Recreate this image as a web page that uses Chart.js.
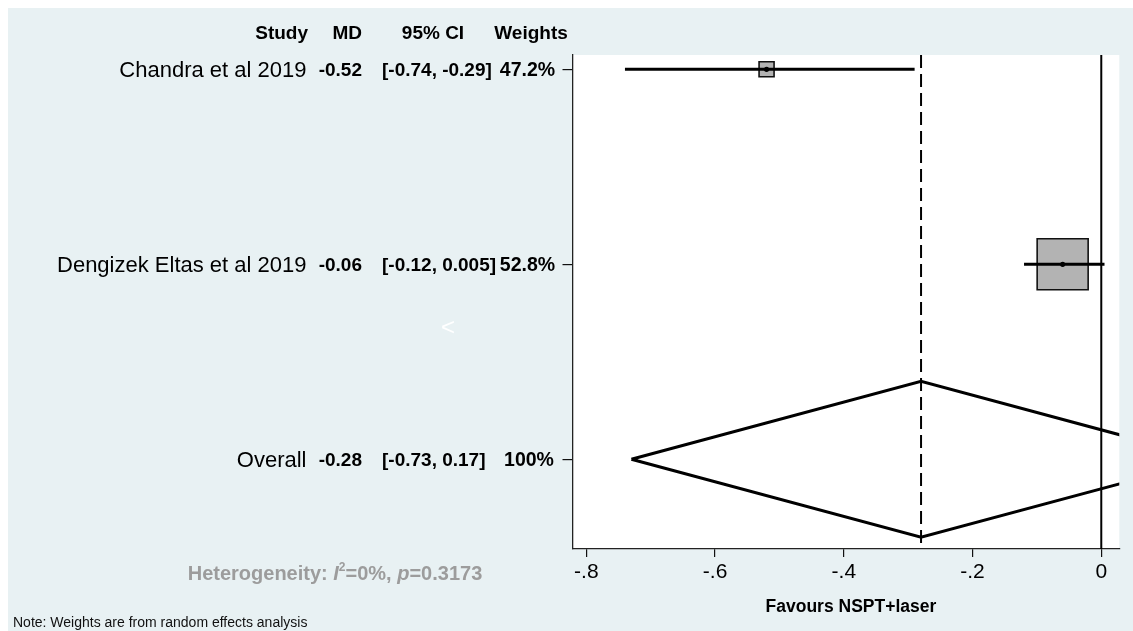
<!DOCTYPE html>
<html>
<head>
<meta charset="utf-8">
<title>Forest plot: NSPT+laser</title>
<script src="https://cdn.jsdelivr.net/npm/chart.js@4.4.1/dist/chart.umd.min.js"></script>
<style>
  html, body { margin: 0; padding: 0; background: #ffffff; }
  #wrap { position: relative; width: 1133px; height: 631px; }
  canvas { display: block; }
</style>
</head>
<body>
<div id="wrap"><canvas id="forest" width="1133" height="631"></canvas></div>
<script>
// ---- Study data (mean differences with 95% CI) ----
const studies = ['Chandra et al 2019', 'Dengizek Eltas et al 2019'];
const md      = [-0.52, -0.06];
const ciLow   = [-0.74, -0.12];
const ciHigh  = [-0.29, 0.005];
const weights = [47.2, 52.8];

// ---- Pooled estimate ----
const overallName   = 'Overall';
const overallMd     = -0.28;
const overallLow    = -0.73;
const overallHigh   = 0.17;
const overallWeight = 100;

// ---- Heterogeneity ----
const hetI2 = 0;
const hetP  = 0.3173;

// ---- Axis ----
const xTicks = [-0.8, -0.6, -0.4, -0.2, 0];
const xTitle = 'Favours NSPT+laser';
const headers = ['Study', 'MD', '95% CI', 'Weights'];
const note = 'Note: Weights are from random effects analysis';

// ---- Styling ----
const FONT = '"Liberation Sans", Arial, Helvetica, sans-serif';
const PANEL = '#e8f1f3';
const BOX_FILL = '#b3b3b3';
const boxSide = [15, 51];          // marker square side, px
const diamondHalf = 0.40;          // diamond half height, in row units
const X_MIN = -0.8215, X_MAX = 0.028;
const Y_MIN = 0.9267, Y_MAX = 3.46;

const rowOf = i => i + 1;          // rows counted from the top
const overallRow = studies.length + 1;
const fmtTick = v => (v === 0 ? '0' : String(v).replace('0.', '.'));

const datasets = [];

// point estimate dots (topmost)
datasets.push({
  data: md.map((v, i) => ({ x: v, y: rowOf(i) })),
  pointStyle: 'circle', pointRadius: 2.6, pointBackgroundColor: '#000',
  pointBorderWidth: 0, showLine: false, order: 0
});
// confidence interval whiskers
md.forEach((v, i) => {
  datasets.push({
    data: [{ x: ciLow[i], y: rowOf(i) }, { x: ciHigh[i], y: rowOf(i) }],
    showLine: true, borderColor: '#000', borderWidth: 3, pointRadius: 0,
    borderCapStyle: 'butt', order: 1
  });
});
// weight squares
datasets.push({
  data: md.map((v, i) => ({ x: v, y: rowOf(i) })),
  pointStyle: 'rect',
  pointRadius: boxSide.map(s => s / (2 * Math.SQRT1_2)),
  pointBackgroundColor: BOX_FILL, pointBorderColor: '#111', pointBorderWidth: 1.6,
  showLine: false, order: 2
});
// pooled diamond
datasets.push({
  data: [
    { x: overallLow, y: overallRow },
    { x: overallMd, y: overallRow - diamondHalf },
    { x: overallHigh, y: overallRow },
    { x: overallMd, y: overallRow + diamondHalf },
    { x: overallLow, y: overallRow }
  ],
  showLine: true, fill: false, borderColor: '#000', borderWidth: 3,
  borderJoinStyle: 'miter', pointRadius: 0, tension: 0, order: 3
});
// pooled-effect reference (dashed)
datasets.push({
  data: [{ x: overallMd, y: Y_MIN }, { x: overallMd, y: Y_MAX }],
  showLine: true, borderColor: '#000', borderWidth: 2, borderDash: [13, 6],
  pointRadius: 0, order: 4
});
// line of no effect
datasets.push({
  data: [{ x: 0, y: Y_MIN }, { x: 0, y: Y_MAX }],
  showLine: true, borderColor: '#000', borderWidth: 2, pointRadius: 0, order: 5
});

const backdrop = {
  id: 'backdrop',
  beforeDraw(chart) {
    const { ctx, chartArea: a, width, height } = chart;
    ctx.save();
    ctx.fillStyle = '#ffffff';
    ctx.fillRect(0, 0, width, height);
    ctx.fillStyle = PANEL;
    ctx.fillRect(8, 8, width - 8, height - 8);
    ctx.fillStyle = '#ffffff';
    ctx.fillRect(a.left, a.top, a.right - a.left, a.bottom - a.top);
    ctx.restore();
  }
};

function put(ctx, s, x, y, font, color, align) {
  ctx.font = font;
  ctx.fillStyle = color;
  ctx.textAlign = align || 'left';
  ctx.textBaseline = 'middle';
  ctx.fillText(s, x, y);
}

const table = {
  id: 'table',
  afterDraw(chart) {
    const { ctx } = chart;
    const ys = chart.scales.y;
    const a = chart.chartArea;
    ctx.save();
    const hdr = `bold 19px ${FONT}`;
    const val = `bold 19px ${FONT}`;
    const nameF = `22px ${FONT}`;

    // column headers
    put(ctx, headers[0], 308, 34, hdr, '#000', 'right');
    put(ctx, headers[1], 362, 34, hdr, '#000', 'right');
    put(ctx, headers[2], 433, 34, hdr, '#000', 'center');
    put(ctx, headers[3], 531, 34, hdr, '#000', 'center');

    // study rows
    studies.forEach((s, i) => {
      const y = ys.getPixelForValue(rowOf(i)) + 1.5;
      put(ctx, s, 306.5, y, nameF, '#000', 'right');
      put(ctx, String(md[i]), 362, y, val, '#000', 'right');
      put(ctx, `[${ciLow[i]}, ${ciHigh[i]}]`, 382, y, val, '#000', 'left');
      put(ctx, `${weights[i]}%`, 527.5, y, `bold 19.5px ${FONT}`, '#000', 'center');
    });

    // pooled row
    const yo = ys.getPixelForValue(overallRow) + 1.5;
    put(ctx, overallName, 306.5, yo, nameF, '#000', 'right');
    put(ctx, String(overallMd), 362, yo, val, '#000', 'right');
    put(ctx, `[${overallLow}, ${overallHigh}]`, 382, yo, val, '#000', 'left');
    put(ctx, `${overallWeight}%`, 529, yo, `bold 19.5px ${FONT}`, '#000', 'center');

    // stray marker glyph
    put(ctx, '<', 448, 328, `24px ${FONT}`, '#ffffff', 'center');

    // heterogeneity line
    const big = 20;
    const parts = [
      { t: 'Heterogeneity: ', f: `bold ${big}px ${FONT}` },
      { t: 'I', f: `italic bold ${big}px ${FONT}` },
      { t: '2', f: `bold 12px ${FONT}`, sup: true },
      { t: `=${hetI2}%, `, f: `bold ${big}px ${FONT}` },
      { t: 'p', f: `italic bold ${big}px ${FONT}` },
      { t: `=${hetP}`, f: `bold ${big}px ${FONT}` }
    ];
    let total = 0;
    parts.forEach(p => { ctx.font = p.f; p.w = ctx.measureText(p.t).width; total += p.w; });
    let hx = 335 - total / 2;
    const hy = 574;
    parts.forEach(p => {
      put(ctx, p.t, hx, p.sup ? hy - 6 : hy, p.f, '#9c9c9c', 'left');
      hx += p.w;
    });

    // axis title
    put(ctx, xTitle, (a.left + a.right) / 2 + 5, 607, `bold 17.5px ${FONT}`, '#000', 'center');

    // footnote
    put(ctx, note, 13, 623, `14px ${FONT}`, '#111', 'left');
    ctx.restore();
  }
};

new Chart(document.getElementById('forest'), {
  type: 'scatter',
  data: { datasets },
  options: {
    responsive: false,
    devicePixelRatio: 1,
    animation: false,
    events: [],
    layout: { autoPadding: false, padding: { left: 562.5, right: 13.7, top: 55, bottom: 42 } },
    plugins: { legend: { display: false }, tooltip: { enabled: false } },
    scales: {
      x: {
        type: 'linear', min: X_MIN, max: X_MAX,
        afterBuildTicks: s => { s.ticks = xTicks.map(v => ({ value: v })); },
        afterFit: s => { s.height = 40; },
        grid: { drawOnChartArea: false, drawTicks: true, tickLength: 8, color: '#111', lineWidth: 1.2 },
        border: { display: true, color: '#222', width: 1.3 },
        ticks: {
          color: '#000', padding: 3, maxRotation: 0,
          font: { family: FONT, size: 21 },
          callback: v => fmtTick(v)
        }
      },
      y: {
        type: 'linear', min: Y_MIN, max: Y_MAX, reverse: true,
        afterBuildTicks: s => { s.ticks = [...studies.map((_, i) => rowOf(i)), overallRow].map(v => ({ value: v })); },
        afterFit: s => { s.width = 10; },
        grid: { drawOnChartArea: false, drawTicks: true, tickLength: 10, color: '#111', lineWidth: 1.2 },
        border: { display: true, color: '#222', width: 1.3 },
        ticks: { display: false }
      }
    }
  },
  plugins: [backdrop, table]
});
</script>
</body>
</html>
